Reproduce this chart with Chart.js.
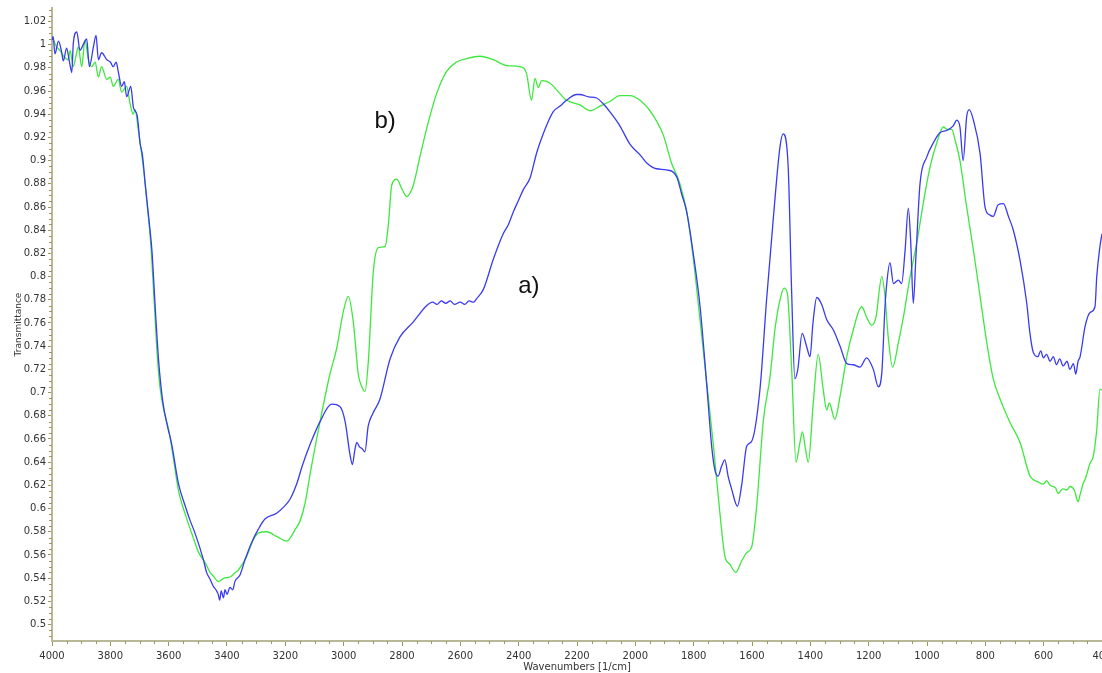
<!DOCTYPE html>
<html>
<head>
<title>FTIR spectra</title>
<script src="https://cdn.jsdelivr.net/npm/chart.js@4.4.0/dist/chart.umd.min.js"></script>
<style type="text/css">
  body { margin: 0; background: #fff; }
  #chart-container { width: 1102px; height: 673px; }
</style>
<script>
// spectrum a) (blue)
var wnA = [4000,3996,3990,3978,3968,3961,3950,3940,3932,3927,3915,3904,3893,3881,3872,3858,3849,3841,3830,3812,
  3800,3790,3780,3773,3761,3752,3744,3730,3721,3708,3698,3690,3680,3668,3657,3646,3634,3620,3605,3590,
  3566,3543,3527,3510,3481,3470,3458,3447,3438,3430,3425,3420,3412,3407,3400,3390,3380,3373,3355,3338,
  3315,3293,3270,3230,3207,3184,3160,3143,3114,3081,3041,3013,2995,2978,2970,2962,2955,2945,2938,2927,
  2916,2900,2876,2841,2807,2761,2715,2695,2680,2665,2650,2635,2620,2600,2585,2570,2555,2544,2521,2487,
  2453,2435,2418,2400,2384,2361,2338,2316,2282,2258,2236,2201,2190,2160,2133,2110,2087,2053,2018,1984,
  1961,1927,1893,1858,1841,1824,1802,1778,1755,1738,1727,1716,1705,1693,1682,1670,1650,1635,1618,1601,
  1573,1550,1527,1504,1493,1476,1464,1453,1443,1428,1413,1401,1391,1378,1361,1344,1321,1298,1275,1253,
  1230,1207,1184,1167,1155,1144,1138,1127,1115,1098,1087,1075,1064,1056,1047,1038,1024,1001,979,956,
  933,910,898,887,876,864,855,841,818,801,784,773,756,738,721,704,681,658,647,636,
  620,610,601,590,578,567,556,545,533,520,510,498,490,482,475,458,441,424,418,407,
  400];
var transA = [1.004,1.007,0.992,1.003,0.995,0.986,0.997,0.985,0.976,1.001,1.011,0.995,1.000,1.005,0.981,0.998,1.008,0.987,0.993,0.987,
  0.985,0.981,0.985,0.977,0.964,0.968,0.955,0.964,0.946,0.939,0.915,0.905,0.879,0.850,0.821,0.773,0.726,0.692,0.672,0.656,
  0.621,0.602,0.590,0.579,0.556,0.545,0.539,0.533,0.530,0.526,0.521,0.529,0.523,0.530,0.526,0.532,0.530,0.537,0.543,0.556,
  0.571,0.582,0.591,0.596,0.601,0.608,0.622,0.636,0.656,0.675,0.690,0.688,0.675,0.646,0.638,0.650,0.657,0.653,0.652,0.649,
  0.671,0.682,0.694,0.729,0.748,0.761,0.775,0.778,0.776,0.779,0.777,0.779,0.776,0.778,0.776,0.779,0.778,0.781,0.789,0.815,
  0.837,0.845,0.856,0.866,0.875,0.885,0.907,0.923,0.942,0.947,0.952,0.957,0.957,0.955,0.954,0.949,0.942,0.930,0.914,0.905,
  0.898,0.893,0.892,0.886,0.871,0.856,0.821,0.774,0.706,0.653,0.633,0.628,0.636,0.642,0.628,0.617,0.602,0.621,0.654,0.658,
  0.702,0.780,0.850,0.912,0.923,0.895,0.786,0.712,0.720,0.751,0.740,0.731,0.760,0.782,0.776,0.763,0.754,0.740,0.725,0.724,
  0.722,0.730,0.720,0.705,0.717,0.774,0.794,0.812,0.794,0.797,0.794,0.823,0.859,0.831,0.777,0.817,0.880,0.903,0.915,0.924,
  0.926,0.930,0.935,0.929,0.900,0.938,0.944,0.935,0.906,0.860,0.853,0.852,0.862,0.863,0.852,0.840,0.814,0.777,0.751,0.735,
  0.731,0.736,0.730,0.733,0.727,0.731,0.724,0.729,0.723,0.727,0.720,0.725,0.716,0.727,0.731,0.757,0.769,0.774,0.800,0.826,
  0.837];

// spectrum b) (green)
var wnB = [4000,3992,3984,3973,3960,3944,3938,3927,3918,3910,3898,3887,3876,3864,3852,3841,3830,3812,3800,3790,
  3773,3761,3744,3733,3722,3715,3705,3695,3685,3675,3662,3650,3640,3630,3617,3600,3583,3566,3543,3520,
  3497,3474,3458,3447,3430,3410,3390,3375,3361,3332,3310,3291,3264,3230,3195,3166,3150,3132,3115,3081,
  3047,3024,3001,2984,2967,2950,2938,2927,2916,2898,2881,2858,2847,2835,2818,2801,2784,2761,2738,2710,
  2681,2647,2613,2578,2533,2487,2441,2396,2373,2356,2344,2333,2321,2293,2270,2236,2201,2190,2155,2121,
  2087,2053,2018,1984,1950,1927,1904,1876,1847,1824,1801,1778,1755,1733,1710,1693,1676,1656,1635,1618,
  1601,1584,1561,1538,1521,1504,1490,1479,1464,1449,1437,1427,1417,1407,1390,1373,1356,1344,1335,1316,
  1298,1275,1253,1224,1207,1190,1175,1155,1144,1133,1118,1098,1081,1058,1035,1013,990,967,944,930,
  915,904,887,864,841,818,795,773,744,715,681,647,636,620,601,590,578,560,550,535,
  520,510,495,482,475,464,458,441,430,418,407,400];
var transB = [1.007,1.002,0.998,0.995,0.990,0.987,0.995,0.981,0.990,0.998,0.981,1.004,0.988,0.981,0.985,0.972,0.981,0.970,0.972,0.964,
  0.970,0.959,0.964,0.950,0.940,0.944,0.928,0.910,0.890,0.865,0.830,0.780,0.735,0.705,0.685,0.668,0.642,0.615,0.595,0.578,
  0.562,0.553,0.545,0.542,0.537,0.540,0.541,0.544,0.547,0.559,0.573,0.579,0.580,0.576,0.572,0.582,0.589,0.605,0.630,0.675,
  0.716,0.738,0.770,0.783,0.761,0.716,0.705,0.701,0.725,0.805,0.825,0.826,0.844,0.879,0.884,0.876,0.869,0.879,0.904,0.933,
  0.958,0.977,0.985,0.988,0.990,0.987,0.982,0.981,0.975,0.952,0.971,0.963,0.969,0.967,0.961,0.952,0.949,0.948,0.943,0.947,
  0.951,0.956,0.956,0.952,0.943,0.934,0.922,0.898,0.880,0.856,0.815,0.762,0.708,0.656,0.596,0.559,0.552,0.545,0.555,0.562,
  0.567,0.602,0.676,0.714,0.755,0.780,0.790,0.786,0.720,0.640,0.655,0.666,0.652,0.640,0.691,0.733,0.703,0.685,0.691,0.677,
  0.697,0.731,0.754,0.774,0.765,0.758,0.765,0.800,0.783,0.748,0.722,0.743,0.765,0.800,0.829,0.863,0.894,0.915,0.929,0.927,
  0.927,0.918,0.900,0.860,0.823,0.783,0.743,0.712,0.691,0.674,0.657,0.628,0.625,0.623,0.621,0.624,0.620,0.618,0.613,0.617,
  0.616,0.619,0.616,0.606,0.612,0.622,0.625,0.639,0.645,0.668,0.703,0.702];

var xTicks = [4000,3800,3600,3400,3200,3000,2800,2600,2400,2200,2000,1800,1600,1400,1200,1000,800,600,400];
var yTicks = [0.5,0.52,0.54,0.56,0.58,0.6,0.62,0.64,0.66,0.68,0.7,0.72,0.74,0.76,0.78,0.8,0.82,0.84,0.86,0.88,
  0.9,0.92,0.94,0.96,0.98,1,1.02];

var noteText = ['a)', 'b)'];
var noteWn = [2365, 2858];
var noteT = [0.792, 0.934];

var axisColor = '#b8b898';
var tickColor = '#9a9a5a';

// minor ticks + a)/b) labels
var extras = {
  id: 'extras',
  afterDraw: function(chart) {
    var ctx = chart.ctx, xs = chart.scales.x, ys = chart.scales.y;
    var bottom = chart.chartArea.bottom, left = chart.chartArea.left;
    ctx.save();
    ctx.strokeStyle = tickColor;
    ctx.lineWidth = 1;
    ctx.beginPath();
    for (var w = 400; w <= 4000; w += 50) {
      if (w % 200 === 0) continue;
      var px = Math.round(xs.getPixelForValue(w)) + 0.5;
      ctx.moveTo(px, bottom); ctx.lineTo(px, bottom + 3);
    }
    for (var k = 98; k <= 206; k++) {
      if (k % 4 === 0) continue;
      var py = Math.round(ys.getPixelForValue(k * 0.005)) + 0.5;
      if (py < chart.chartArea.top || py > bottom) continue;
      ctx.moveTo(left - 3, py); ctx.lineTo(left, py);
    }
    ctx.stroke();
    ctx.fillStyle = '#111';
    ctx.font = '24px "Liberation Sans", Arial, sans-serif';
    ctx.textAlign = 'center';
    ctx.textBaseline = 'middle';
    for (var i = 0; i < noteText.length; i++) {
      ctx.fillText(noteText[i], xs.getPixelForValue(noteWn[i]), ys.getPixelForValue(noteT[i]));
    }
    ctx.restore();
  }
};

window.onload = function() {
  var ctx = document.getElementById('mycanvas');
  new Chart(ctx, {
    type: 'line',
    data: {
      datasets: [
        {
          label: 'a)',
          data: wnA.map(function(w, i) { return {x: w, y: transA[i]}; }),
          borderColor: '#3a3af0',
          borderWidth: 1.3,
          pointRadius: 0,
          cubicInterpolationMode: 'monotone'
        },
        {
          label: 'b)',
          data: wnB.map(function(w, i) { return {x: w, y: transB[i]}; }),
          borderColor: '#3ee83e',
          borderWidth: 1.3,
          pointRadius: 0,
          cubicInterpolationMode: 'monotone'
        }
      ]
    },
    options: {
      responsive: false,
      animation: false,
      devicePixelRatio: 1,
      layout: { padding: { top: 8, right: 0, left: 0, bottom: 0 } },
      plugins: { legend: { display: false }, tooltip: { enabled: false } },
      scales: {
        x: {
          type: 'linear',
          reverse: true,
          min: 400,
          max: 4000,
          afterBuildTicks: function(s) { s.ticks = xTicks.map(function(v) { return {value: v}; }); },
          afterFit: function(s) { s.height = 32; s.paddingLeft = 0; s.paddingRight = 0; },
          border: { color: axisColor, width: 2 },
          grid: { drawOnChartArea: false, tickLength: 5, tickColor: tickColor },
          ticks: {
            autoSkip: false, maxRotation: 0, padding: 4, color: '#333',
            font: { family: 'DejaVu Sans', size: 10 },
            callback: function(v) { return String(v); }
          },
          title: {
            display: true, text: 'Wavenumbers [1/cm]', color: '#333',
            font: { family: 'DejaVu Sans', size: 10 }, padding: { top: 0, bottom: 0 }
          }
        },
        y: {
          min: 0.4858,
          max: 1.0316,
          afterBuildTicks: function(s) { s.ticks = yTicks.map(function(v) { return {value: v}; }); },
          afterFit: function(s) { s.width = 52; s.paddingTop = 0; s.paddingBottom = 0; },
          border: { color: axisColor, width: 2 },
          grid: { drawOnChartArea: false, tickLength: 4, tickColor: tickColor },
          ticks: {
            autoSkip: false, padding: 2, color: '#333',
            font: { family: 'DejaVu Sans', size: 10 },
            callback: function(v) { return String(+v.toFixed(2)); }
          },
          title: {
            display: true, text: 'Transmittance', color: '#333',
            font: { family: 'DejaVu Sans', size: 9 }, padding: { top: 13, bottom: 0 }
          }
        }
      }
    },
    plugins: [extras]
  });
};
</script>
</head>
<body>
  <div id="chart-container">
    <canvas id="mycanvas" width="1102" height="673"></canvas>
  </div>
</body>
</html>
